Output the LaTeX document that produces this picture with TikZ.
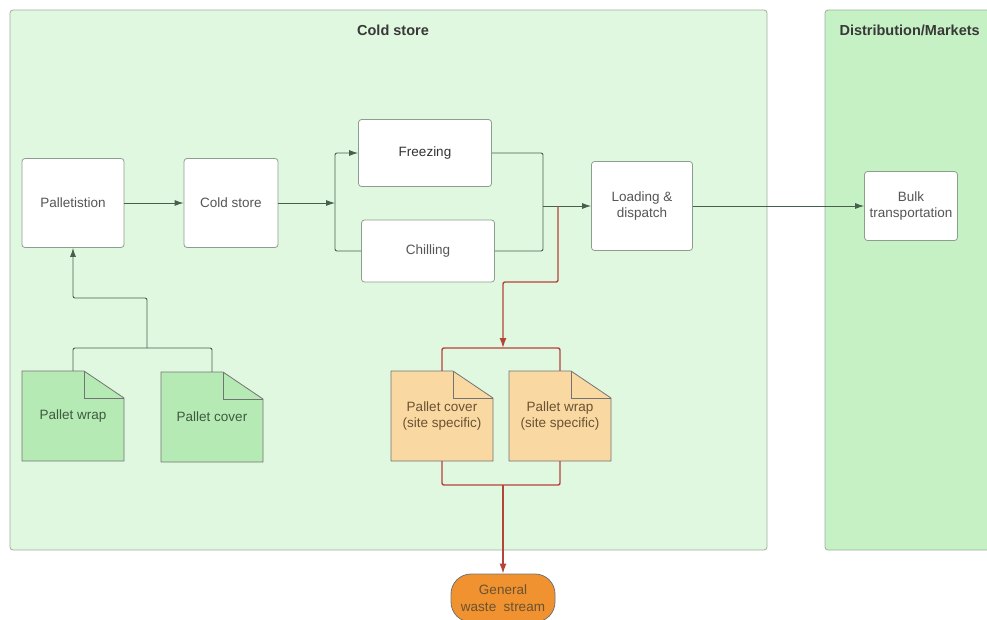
\documentclass[tikz,border=0pt]{standalone}
\usepackage{fontspec}
\setmainfont{Liberation Sans}
\usetikzlibrary{calc,arrows.meta}
\definecolor{coldbg}{HTML}{E1F8E0}
\definecolor{distbg}{HTML}{C6F1C4}
\definecolor{panelline}{HTML}{9DB09D}
\definecolor{boxline}{HTML}{8E9E8E}
\definecolor{flowline}{HTML}{45604D}
\definecolor{wasteline}{HTML}{B4443A}
\definecolor{txtgray}{HTML}{555555}
\definecolor{greendoc}{HTML}{B6EAB4}
\definecolor{orangedoc}{HTML}{F9D8A2}
\definecolor{wastefill}{HTML}{F0922F}
\definecolor{greentxt}{HTML}{3E5A40}
\definecolor{orangetxt}{HTML}{6A5232}
\tikzset{
	panel/.style={draw=panelline, line width=0.8pt, rounded corners=3pt},
	title/.style={font=\fontsize{14.5}{16}\selectfont\bfseries, text=black!78},
	box/.style={draw=boxline, line width=0.8pt, fill=white, rounded corners=3pt, align=center, text=txtgray, font=\fontsize{13.5}{16.5}\selectfont, inner sep=1pt},
	doctext/.style={minimum width=102pt, minimum height=90pt, inner sep=0pt, align=center, font=\fontsize{13.5}{16.5}\selectfont},
	docline/.style={draw=black!55, line width=0.8pt},
	flow/.style={draw=flowline, line width=0.9pt, rounded corners=2pt},
	arr/.style={flow, -{Latex[length=9pt,width=6pt]}},
	waste/.style={draw=wasteline, line width=1.4pt, rounded corners=2pt},
	wastearr/.style={waste, -{Latex[length=10pt,width=7pt]}}
}
\newcommand{\docpage}[5]{%
	\filldraw[docline,fill=#3] ($(#2)+(-51,45)$) -- ($(#2)+(-51,-45)$) -- ($(#2)+(11,-45)$) -- ($(#2)+(51,-18)$) -- ($(#2)+(51,45)$) -- cycle;
	\draw[docline] ($(#2)+(11,-45)$) -- ($(#2)+(11,-18)$) -- ($(#2)+(51,-18)$);
	\node[doctext, text=#4] (#1) at (#2) {#5};
}

\begin{document}
\begin{tikzpicture}[x=1pt, y=-1pt]
				\useasboundingbox (0,0) rectangle (987,619);
				\filldraw[panel, fill=coldbg] (10,10) rectangle (767,550);
				\filldraw[panel, fill=distbg] (825,10) rectangle (1000,550);
				\node[title] (coldtitle) at (393,30) {Cold store};
				\node[title, anchor=west] (disttitle) at (836,30) {Distribution/Markets};

				\node[box, minimum width=102pt, minimum height=89pt] (pal) at (73,203) {Palletistion};
				\node[box, minimum width=94pt, minimum height=89pt] (cs) at (231,203) {Cold store};
				\node[box, minimum width=133pt, minimum height=67pt, text=black!80] (frz) at (425,153) {Freezing};
				\node[box, minimum width=133pt, minimum height=62pt] (chl) at (428,251) {Chilling};
				\node[box, minimum width=101pt, minimum height=89pt] (ld) at (642,206) {Loading \&\\dispatch};
				\node[box, minimum width=93pt, minimum height=69pt] (bulk) at (911,206) {Bulk\\transportation};

				\docpage{pw}{73,416}{greendoc}{greentxt}{Pallet wrap}
				\docpage{pc}{212,417}{greendoc}{greentxt}{Pallet cover}
				\docpage{pcs}{442,416}{orangedoc}{orangetxt}{Pallet cover\\(site specific)}
				\docpage{pws}{560,416}{orangedoc}{orangetxt}{Pallet wrap\\(site specific)}

				\node[draw=black!55, line width=0.8pt, fill=wastefill, rounded corners=20pt, minimum width=104pt, minimum height=48pt, align=center, text=orangetxt, font=\fontsize{13.5}{16.5}\selectfont, inner sep=0pt] (wst) at (503,598) {General\\waste\ \ stream};

				\coordinate (split) at (335,203);
				\coordinate (merge) at (543,206);
				\coordinate (rtop) at (558,206);
				\coordinate (rmid) at (503,348);
				\coordinate (rbot) at (503,485);
				\coordinate (gjoin) at (147,348);

				\draw[arr] (pal) -- (cs);
				\draw[arr] (cs) -- (split);
				\draw[arr] (split) |- (frz);
				\draw[flow] (split) |- (chl);
				\draw[flow] (frz) -| (merge);
				\draw[flow] (chl) -| (merge);
				\draw[arr] (merge) -- (ld);
				\draw[arr] (ld) -- (bulk);

				\draw[flow] (pw.north) |- (gjoin) -| (pc.north);
				\draw[arr] (gjoin) -- ++(0,-50) -| (pal.south);

				\draw[wastearr] (rtop) -- ++(0,76) -| (rmid);
				\draw[waste] (pcs.north) |- (rmid) -| (pws.north);
				\draw[waste] (pcs.south) |- (rbot) -| (pws.south);
				\draw[wastearr] (rbot) -- (wst);
			\end{tikzpicture}
\end{document}
